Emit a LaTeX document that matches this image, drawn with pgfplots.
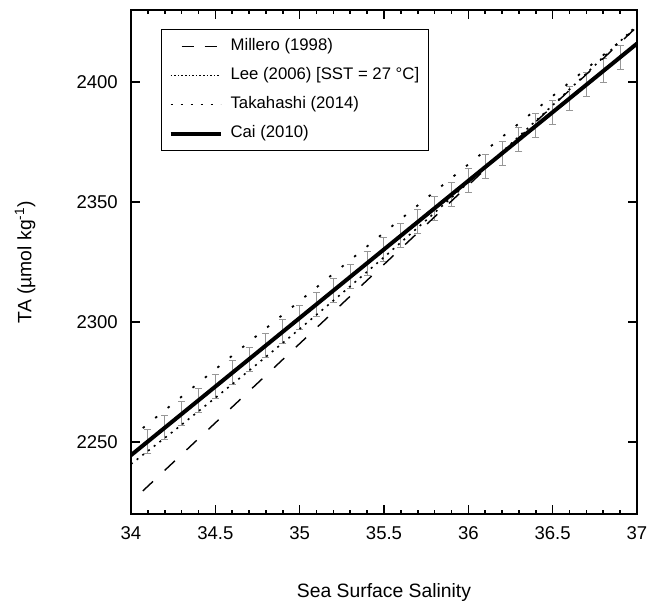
\documentclass[border=0pt]{standalone}
\usepackage{fontspec}
\setmainfont{Liberation Sans}
\usepackage{pgfplots}
\pgfplotsset{compat=1.18}
\definecolor{errgray}{RGB}{150,150,150}

\pgfplotstableread{
x y e
34.1 2250.2 5
34.2 2255.9 5
34.3 2261.7 5
34.4 2267.4 5
34.5 2273.1 5
34.6 2278.8 5
34.7 2284.5 5
34.8 2290.2 5
34.9 2296.0 5
35.0 2301.7 5
35.1 2307.4 5
35.2 2313.1 5
35.3 2318.8 5
35.4 2324.5 5
35.5 2330.3 5
35.6 2336.0 5
35.7 2341.7 5
35.8 2347.4 5
35.9 2353.1 5
36.0 2358.8 5
36.1 2364.6 5
36.2 2370.3 5
36.3 2376.0 5
36.4 2381.7 5
36.5 2387.4 5
36.6 2393.1 5
36.7 2398.8 5
36.8 2404.6 5
36.9 2410.3 5
}\errtable

\begin{document}
\begin{tikzpicture}
\begin{axis}[
  scale only axis, width=253bp, height=252bp,
  xmin=34, xmax=37, ymin=2220, ymax=2430,
  xtick={34,34.5,35,35.5,36,36.5,37},
  ytick={2250,2300,2350,2400},
  minor x tick num=4,
  tick align=inside,
  major tick length=4.5bp, minor tick length=2.2bp,
  axis line style={line width=0.8bp},
  every tick/.style={black, line width=0.8bp},
  scaled ticks=false,
  /pgf/number format/assume math mode=true,
  /pgf/number format/set thousands separator={},
  ticklabel style={font=\fontsize{9.3}{10}\selectfont},
  xticklabel style={inner sep=0pt, yshift=-6.2bp},
  yticklabel style={inner sep=0pt, xshift=-6.4bp},
  xlabel={Sea Surface Salinity},
  ylabel={TA (µmol kg\textsuperscript{-1})},
  label style={font=\fontsize{9.7}{11}\selectfont},
  xlabel style={at={(axis description cs:0.5,-0.1548)}, anchor=center, inner sep=0pt},
  ylabel style={at={(axis description cs:-0.2095,0.5)}, anchor=center, inner sep=0pt},
  legend image code/.code={\draw[#1] (0bp,0bp) -- (25bp,0bp);},
  legend style={at={(axis description cs:0.0593,0.9623)}, anchor=north west,
    draw=black, line width=0.6bp, inner xsep=3.5bp, inner ysep=3.5bp,
    row sep=4.5bp, column sep=3bp,
    font=\fontsize{8.4}{10}\selectfont,
    nodes={inner sep=1bp, text height=6.2bp, text depth=1.8bp}},
  legend cell align=left,
]
% error bars
\addplot[draw=none, mark=none, forget plot,
  error bars/.cd, y dir=both, y explicit,
  error bar style={errgray, line width=0.5bp},
  error mark options={errgray, line width=0.5bp, mark size=1.75bp, rotate=90}]
  table[x=x, y=y, y error=e] {\errtable};
% Millero (1998)
\addplot[black, line width=0.7bp, dash pattern=on 7bp off 8bp, forget plot]
  coordinates {(34.07,2229.6) (37.0,2423.0)};
% Lee (2006)
\addplot[black, line width=0.8bp, dash pattern=on 1bp off 2.6bp, forget plot]
  coordinates {(34.00,2240.8) (34.25,2254.4) (34.50,2268.4) (34.75,2282.6)
   (35.00,2297.1) (35.25,2311.9) (35.50,2327.0) (35.75,2342.4) (36.00,2358.1)
   (36.25,2374.1) (36.50,2390.3) (36.75,2406.9) (37.00,2423.7)};
% Takahashi (2014)
\addplot[black, line width=0.9bp, dash pattern=on 1.2bp off 6.8bp, forget plot]
  coordinates {(34.07,2255.8) (37.0,2422.6)};
% Cai (2010)
\addplot[black, line width=2bp, forget plot]
  coordinates {(34.0,2244.5) (37.0,2416.0)};

\addlegendimage{black, line width=0.7bp, dash pattern=on 6bp off 5.5bp, dash phase=6bp}
\addlegendentry{Millero (1998)}
\addlegendimage{black, line width=0.6bp, dash pattern=on 0.8bp off 1bp}
\addlegendentry{Lee (2006) [SST = 27 °C]}
\addlegendimage{black, line width=0.8bp, dash pattern=on 1bp off 4bp}
\addlegendentry{Takahashi (2014)}
\addlegendimage{black, line width=2bp}
\addlegendentry{Cai (2010)}

\coordinate (ll) at (rel axis cs:0,0);
\coordinate (ur) at (rel axis cs:1,1);
\end{axis}
\pgfresetboundingbox
\path ([shift={(-65.5bp,-45.5bp)}]ll) rectangle ([shift={(7bp,5bp)}]ur);
\end{tikzpicture}
\end{document}
